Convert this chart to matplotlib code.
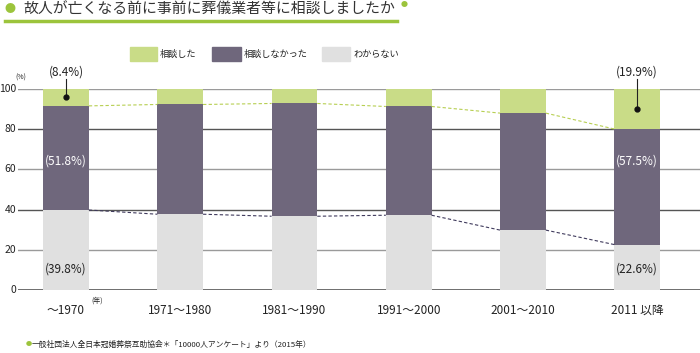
import matplotlib
matplotlib.use("Agg")
import matplotlib.pyplot as plt
from matplotlib.patches import Rectangle
from matplotlib.lines import Line2D
from matplotlib.transforms import blended_transform_factory

plt.rcParams['font.family'] = ['Noto Sans CJK JP', 'DejaVu Sans']

categories = ["〜1970", "1971〜1980", "1981〜1990", "1991〜2000", "2001〜2010", "2011 以降"]
series_names = ["相談した", "相談しなかった", "わからない"]
unknown = [39.8, 37.7, 36.7, 37.2, 29.8, 22.6]
not_consulted = [51.8, 54.6, 56.1, 54.1, 58.2, 57.5]
consulted = [8.4, 7.7, 7.2, 8.7, 12.0, 19.9]
yticks = [0, 20, 40, 60, 80, 100]

c_green = "#c9dc87"
c_purple = "#6f677c"
c_gray = "#e0e0e0"
c_title = "#9cc43c"

W, H = 700, 353
fig = plt.figure(figsize=(W / 100, H / 100), dpi=100)
ax = fig.add_axes([18 / W, 1 - 290 / H, (700 - 18) / W, 201 / H])
ax.set_xlim(-0.42, 5.55)
ax.set_ylim(0, 100)
for s in ax.spines.values():
    s.set_visible(False)
ax.set_xticks([])
ax.set_yticks([])

ytrans = blended_transform_factory(fig.transFigure, ax.transData)

# grid lines
for v in yticks:
    col = "#555555" if v in (0, 40, 80) else "#9a9a9a"
    ax.axhline(v, color=col, lw=1.2 if v == 0 else 1.0, zorder=1)
    ax.text(16 / W, v, str(v), ha="right", va="center", fontsize=7.5, color="#222222",
            transform=ytrans, clip_on=False)

x = list(range(len(categories)))
bw = 0.4
ax.bar(x, unknown, bw, color=c_gray, zorder=2)
ax.bar(x, not_consulted, bw, bottom=unknown, color=c_purple, zorder=2)
tops = [u + n for u, n in zip(unknown, not_consulted)]
ax.bar(x, consulted, bw, bottom=tops, color=c_green, zorder=2)

# connecting dashed lines
for i in range(len(x) - 1):
    ax.plot([x[i] + bw / 2, x[i + 1] - bw / 2], [tops[i], tops[i + 1]],
            color="#b7cf52", lw=0.8, ls=(0, (3, 2)), zorder=3)
    ax.plot([x[i] + bw / 2, x[i + 1] - bw / 2], [unknown[i], unknown[i + 1]],
            color="#3f3a5c", lw=0.8, ls=(0, (3, 2)), zorder=3)

# annotations
for i in (0, 5):
    dot_y = tops[i] + consulted[i] * 0.5
    ax.plot([x[i], x[i]], [dot_y, 104.8], color="#222222", lw=0.8, clip_on=False, zorder=4)
    ax.plot([x[i]], [dot_y], "o", color="#111111", ms=3.5, zorder=5, clip_on=False)
    ax.text(x[i], 108.3, f"({consulted[i]}%)", ha="center", va="center", fontsize=8.5,
            color="#222222", clip_on=False)
    ax.text(x[i], 64, f"({not_consulted[i]}%)", ha="center", va="center", fontsize=8.5,
            color="white", zorder=5)
    ax.text(x[i], 10.5, f"({unknown[i]}%)", ha="center", va="center", fontsize=8.5,
            color="#222222", zorder=5)

ax.text(21 / W, 105.5, "(%)", ha="center", va="center", fontsize=5, color="#222222",
        transform=ytrans, clip_on=False)

# category labels
for i, c in enumerate(categories):
    ax.text(x[i], -10, c, ha="center", va="center", fontsize=8.5, color="#222222", clip_on=False)
ax.text(x[0] + 0.22, -5.5, "(年)", ha="left", va="center", fontsize=5, color="#222222", clip_on=False)

# legend
leg_items = [(130, 157, 160, c_green, series_names[0]),
             (212, 241, 244, c_purple, series_names[1]),
             (322, 350, 353, c_gray, series_names[2])]
for x0, x1, tx, col, lab in leg_items:
    fig.patches.append(Rectangle((x0 / W, 1 - 61 / H), (x1 - x0) / W, 14 / H,
                                 transform=fig.transFigure, color=col))
    fig.text(tx / W, 1 - 54 / H, lab, ha="left", va="center", fontsize=6.6, color="#222222")

# title
fig.text(10 / W, 1 - 9 / H, "●", ha="center", va="center", fontsize=8, color=c_title)
fig.text(23 / W, 1 - 9.5 / H, "故人が亡くなる前に事前に葬儀業者等に相談しましたか", ha="left",
         va="center", fontsize=10.7, color="#333333")
fig.text(404 / W, 1 - 5 / H, "●", ha="center", va="center", fontsize=5, color=c_title)
fig.lines.append(Line2D([5 / W, 397 / W], [1 - 20.5 / H, 1 - 20.5 / H], transform=fig.transFigure,
                        color=c_title, lw=2.5))

# footnote
fig.text(29 / W, 1 - 344.5 / H, "●", ha="center", va="center", fontsize=4.5, color=c_title)
fig.text(32 / W, 1 - 344.5 / H, "一般社団法人全日本冠婚葬祭互助協会＊「10000人アンケート」より（2015年）",
         ha="left", va="center", fontsize=5.6, color="#222222")

fig.savefig("out.png", dpi=100)
